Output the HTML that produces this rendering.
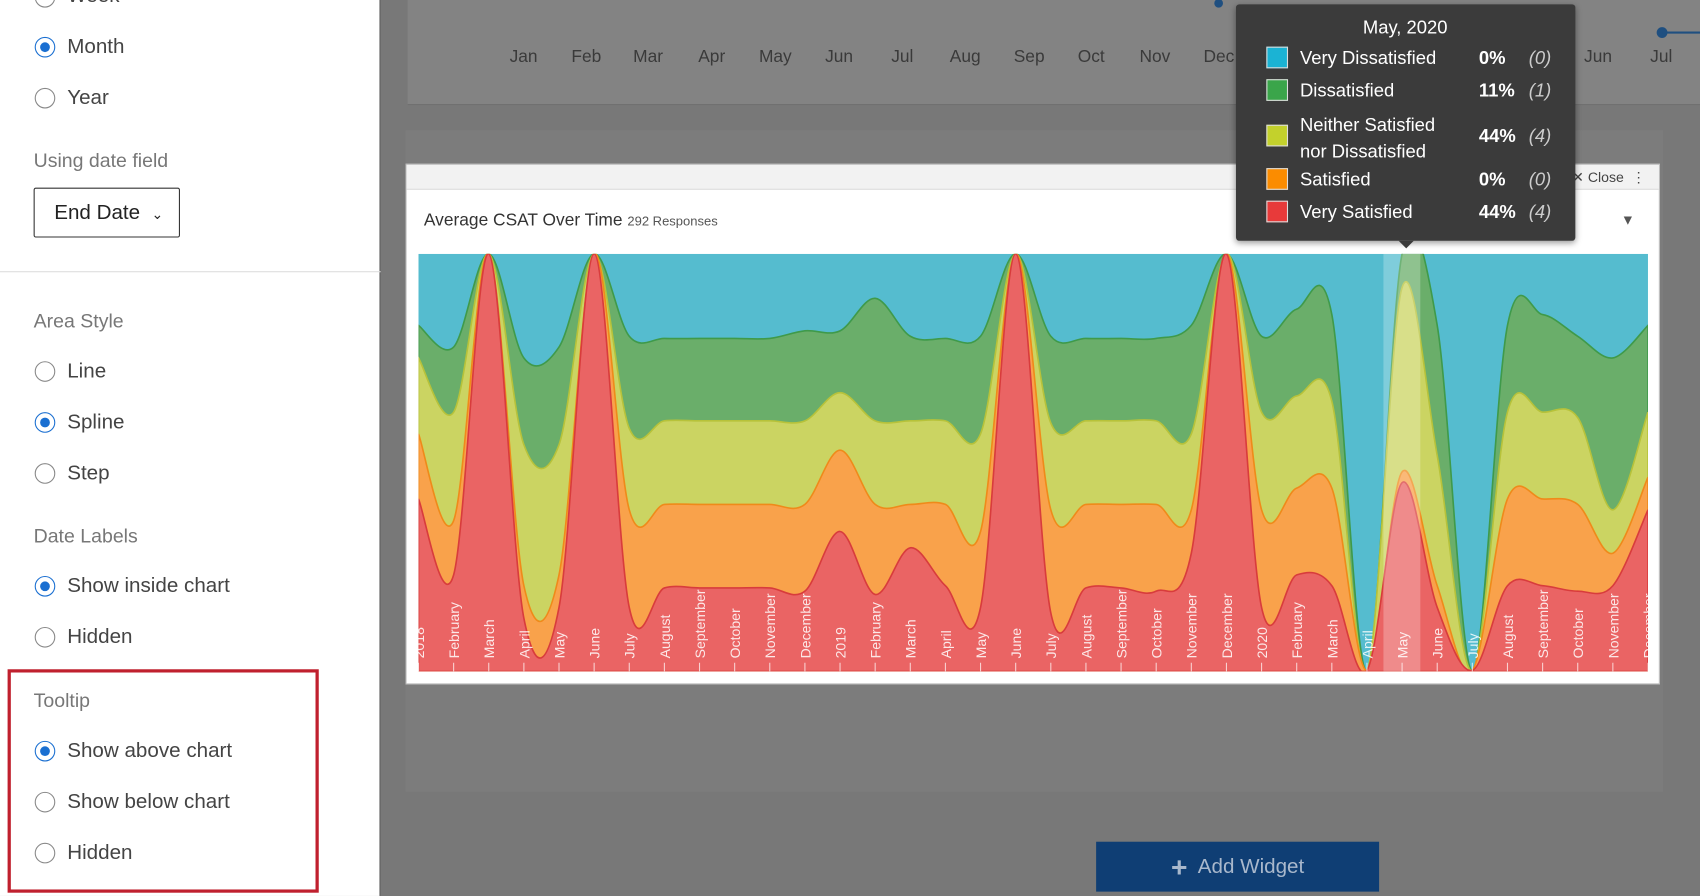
<!DOCTYPE html>
<html><head><meta charset="utf-8"><style>
*{margin:0;padding:0;box-sizing:border-box}
body{width:1700px;height:896px;overflow:hidden;background:#787878;font-family:"Liberation Sans",sans-serif}
#w{position:absolute;left:0;top:0;width:1568px;height:826px;transform:scale(1.0842,1.0847);transform-origin:0 0;background:#787878}
.lp{position:absolute;left:0;top:0;width:351px;height:826px;background:#fff;border-right:1px solid #555}
.t{position:absolute;color:#444;font-size:19px}
.h{position:absolute;color:#777;font-size:18px}
.r{position:absolute;left:32px;width:19px;height:19px;border:1.5px solid #888;border-radius:50%}
.r.on::after{content:"";position:absolute;left:3.5px;top:3.5px;width:9px;height:9px;border-radius:50%;background:#1a6fd1}
.r.on{border-color:#1a6fd1}
.m{position:absolute;top:44px;color:#3a3a3a;font-size:16px}
.tr{position:absolute;left:1168px;color:#fff;font-size:17px}
.sw{position:absolute;left:1168px;width:20px;height:20px;border:1px solid #ddd}
.pc{position:absolute;left:1364px;color:#fff;font-size:17px;font-weight:bold}
.ct{position:absolute;left:1410px;color:#ccc;font-size:17px;font-style:italic}
</style></head><body><div id="w">
<div style="position:absolute;left:376px;top:0;width:1192px;height:97px;background:#838383;border-bottom:1px solid #6e6e6e"></div>
<div class="m" style="left:470px">Jan</div><div class="m" style="left:527px">Feb</div><div class="m" style="left:584px">Mar</div><div class="m" style="left:644px">Apr</div><div class="m" style="left:700px">May</div><div class="m" style="left:761px">Jun</div><div class="m" style="left:822px">Jul</div><div class="m" style="left:876px">Aug</div><div class="m" style="left:935px">Sep</div><div class="m" style="left:994px">Oct</div><div class="m" style="left:1051px">Nov</div><div class="m" style="left:1110px">Dec</div><div class="m" style="left:1461px">Jun</div><div class="m" style="left:1522px">Jul</div>
<div style="position:absolute;left:374px;top:120px;width:1160px;height:610px;background:#7c7c7c"></div>
<div style="position:absolute;left:374px;top:151px;width:1157px;height:480px;background:#fff;border:1px solid #bbb"></div>
<div style="position:absolute;left:375px;top:152px;width:1155px;height:23px;background:#f2f2f2;border-bottom:1px solid #ddd"></div>
<div style="position:absolute;left:1450px;top:156px;font-size:13px;color:#444">✕ Close &nbsp;⋮</div>
<div style="position:absolute;left:391px;top:195px;font-size:16px;color:#333">Average CSAT Over Time <span style="font-size:12px;color:#555">292 Responses</span></div>
<div style="position:absolute;left:1495px;top:195px;font-size:13px;color:#555">▼</div>
<svg id="ch" style="position:absolute;left:0;top:0" width="1568" height="826"></svg>
<div style="position:absolute;left:1011px;top:776px;width:261px;height:46px;background:#0f3e74;color:#a9b8cc;font-size:19px;text-align:center;line-height:46px"><b style="font-size:26px;vertical-align:-3px">+</b>&nbsp; Add Widget</div>
<div style="position:absolute;left:1140px;top:4px;width:313px;height:218px;background:#3b3b3b;border-radius:3px;box-shadow:0 2px 6px rgba(0,0,0,.4)"></div>
<div style="position:absolute;left:1290px;top:222px;border:7px solid transparent;border-top-color:#3b3b3b"></div>
<div class="tr" style="left:1257px;top:16px">May, 2020</div>
<div class="sw" style="top:43px;background:#1bb3d4"></div><div class="tr" style="left:1199px;top:44px">Very Dissatisfied</div><div class="pc" style="top:44px">0%</div><div class="ct" style="top:44px">(0)</div>
<div class="sw" style="top:73px;background:#3aa54a"></div><div class="tr" style="left:1199px;top:74px">Dissatisfied</div><div class="pc" style="top:74px">11%</div><div class="ct" style="top:74px">(1)</div>
<div class="sw" style="top:115px;background:#c3d12c"></div><div class="tr" style="left:1199px;top:104px;line-height:24px">Neither Satisfied<br>nor Dissatisfied</div><div class="pc" style="top:116px">44%</div><div class="ct" style="top:116px">(4)</div>
<div class="sw" style="top:155px;background:#fb8c00"></div><div class="tr" style="left:1199px;top:156px">Satisfied</div><div class="pc" style="top:156px">0%</div><div class="ct" style="top:156px">(0)</div>
<div class="sw" style="top:185px;background:#e83a3a"></div><div class="tr" style="left:1199px;top:186px">Very Satisfied</div><div class="pc" style="top:186px">44%</div><div class="ct" style="top:186px">(4)</div>
<div class="lp">
<div class="r" style="top:-12px"></div><div class="t" style="left:62px;top:-14px">Week</div>
<div class="r on" style="top:34px"></div><div class="t" style="left:62px;top:33px">Month</div>
<div class="r" style="top:81px"></div><div class="t" style="left:62px;top:80px">Year</div>
<div class="h" style="left:31px;top:138px">Using date field</div>
<div style="position:absolute;left:31px;top:173px;width:135px;height:46px;border:1.5px solid #333;border-radius:2px;font-size:19px;color:#222;padding:12px 0 0 18px">End Date &nbsp;<span style="font-size:13px">⌄</span></div>
<div style="position:absolute;left:0;top:250px;width:351px;border-top:1px solid #ddd"></div>
<div class="h" style="left:31px;top:286px">Area Style</div>
<div class="r" style="top:333px"></div><div class="t" style="left:62px;top:332px">Line</div>
<div class="r on" style="top:380px"></div><div class="t" style="left:62px;top:379px">Spline</div>
<div class="r" style="top:427px"></div><div class="t" style="left:62px;top:426px">Step</div>
<div class="h" style="left:31px;top:484px">Date Labels</div>
<div class="r on" style="top:531px"></div><div class="t" style="left:62px;top:530px">Show inside chart</div>
<div class="r" style="top:578px"></div><div class="t" style="left:62px;top:577px">Hidden</div>
<div style="position:absolute;left:7px;top:617px;width:287px;height:206px;border:3px solid #c0202e"></div>
<div class="h" style="left:31px;top:636px">Tooltip</div>
<div class="r on" style="top:683px"></div><div class="t" style="left:62px;top:682px">Show above chart</div>
<div class="r" style="top:730px"></div><div class="t" style="left:62px;top:729px">Show below chart</div>
<div class="r" style="top:777px"></div><div class="t" style="left:62px;top:776px">Hidden</div>
</div>
</div>
<script>
var X0=386,DX=(1520-386)/35,B=619;
var G=[300,320,234,330,320,234,310,312,312,312,312,305,305,275,310,312,310,234,310,312,312,312,300,234,310,285,290,618,234,300,618,300,290,310,330,300];
var Y=[330,380,234,410,410,234,395,388,388,388,388,388,362,388,388,388,400,234,390,388,388,388,400,234,380,365,370,618,265,420,618,380,380,385,470,380];
var O=[400,480,234,540,530,234,470,465,465,465,465,465,415,465,465,465,490,234,470,465,465,465,470,234,470,450,450,618,435,540,618,460,460,465,510,440];
var R=[460,530,234,570,560,234,560,542,542,542,542,545,490,548,505,540,560,234,565,542,542,545,510,234,560,530,540,618,445,560,618,540,540,545,540,470];
function path(a){var p=[];for(var i=0;i<a.length;i++)p.push([X0+i*DX,a[i]]);
var d="M"+X0+","+B+" L"+p[0][0]+","+p[0][1];
for(var i=0;i<p.length-1;i++){var p0=p[Math.max(i-1,0)],p1=p[i],p2=p[i+1],p3=p[Math.min(i+2,p.length-1)];
d+=" C"+(p1[0]+(p2[0]-p0[0])/6)+","+(p1[1]+(p2[1]-p0[1])/6)+" "+(p2[0]-(p3[0]-p1[0])/6)+","+(p2[1]-(p3[1]-p1[1])/6)+" "+p2[0]+","+p2[1];}
return d+" L1520,"+B+" Z";}
var s='<defs><clipPath id="c"><rect x="386" y="234" width="1134" height="385"/></clipPath></defs><g clip-path="url(#c)"><rect x="386" y="234" width="1134" height="385" fill="#55bccf"/>';
[[G,"#6aae6a","#3f9a4a"],[Y,"#cbd462","#b7c23a"],[O,"#f9a24b","#ef8a1a"],[R,"#ea6464","#d83c3c"]].forEach(function(l){s+='<path d="'+path(l[0])+'" fill="'+l[1]+'" stroke="'+l[2]+'" stroke-width="1.5"/>';});
s+='<rect x="1276" y="234" width="34" height="385" fill="#fff" opacity=".25"/>';
var L=["2018","February","March","April","May","June","July","August","September","October","November","December","2019","February","March","April","May","June","July","August","September","October","November","December","2020","February","March","April","May","June","July","August","September","October","November","December"];
for(var i=0;i<36;i++){var x=X0+i*DX;s+='<line x1="'+x+'" y1="611" x2="'+x+'" y2="619" stroke="#fff" stroke-opacity=".7"/><text transform="translate('+(x+5)+',607) rotate(-90)" fill="#fff" fill-opacity=".85" font-size="13" font-family="Liberation Sans,sans-serif">'+L[i]+'</text>';}
s+='</g><circle cx="1124" cy="3" r="4" fill="#1f4f80"/><circle cx="1533" cy="30" r="5" fill="#1f4f80"/><line x1="1533" y1="30" x2="1568" y2="30" stroke="#1f4f80" stroke-width="2"/>';
document.getElementById("ch").innerHTML=s;
</script>
</body></html>
